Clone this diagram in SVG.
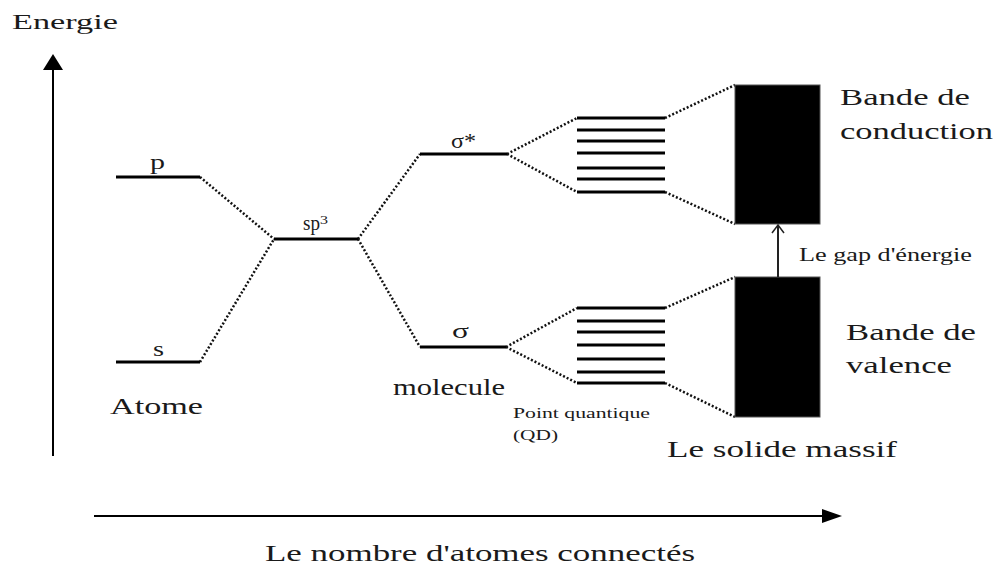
<svg xmlns="http://www.w3.org/2000/svg" width="1000" height="567" viewBox="0 0 1000 567" font-family="Liberation Serif, Times New Roman, serif">
<style>
.t{fill:#1a1a1a}
.lvl{stroke:#000;stroke-width:3;fill:none}
.dot{stroke:#111;stroke-width:2.5;stroke-dasharray:2 2;fill:none}
.axis{stroke:#000;stroke-width:2;fill:none}
.band{fill:#000;stroke:#555;stroke-width:1}
</style>
<rect width="1000" height="567" fill="#fff"/>

<g id="axes">
<line class="axis" x1="53" y1="456" x2="53" y2="68"/>
<path d="M43,70 L53,54 L63,70 Z" fill="#000"/>
<line class="axis" x1="94" y1="516" x2="824" y2="516"/>
<path d="M822,509 L842,516 L822,523 Z" fill="#000"/>
<text class="t" font-family="Liberation Serif" x="12" y="29" font-size="21" textLength="106" lengthAdjust="spacingAndGlyphs">Energie</text>
<text class="t" font-family="Liberation Serif" x="265" y="561" font-size="23" textLength="430" lengthAdjust="spacingAndGlyphs">Le nombre d'atomes connectés</text>
</g>

<g id="connectors">
<line class="dot" x1="200" y1="177" x2="274" y2="239"/>
<line class="dot" x1="200" y1="362" x2="274" y2="239"/>
<line class="dot" x1="358" y1="239" x2="420" y2="154"/>
<line class="dot" x1="358" y1="239" x2="420" y2="347"/>
<line class="dot" x1="507" y1="154" x2="577" y2="118"/>
<line class="dot" x1="507" y1="154" x2="577" y2="192"/>
<line class="dot" x1="506" y1="347" x2="577" y2="308"/>
<line class="dot" x1="506" y1="347" x2="577" y2="383"/>
<line class="dot" x1="665" y1="118" x2="735" y2="85"/>
<line class="dot" x1="665" y1="192" x2="735" y2="224"/>
<line class="dot" x1="665" y1="308" x2="735" y2="277"/>
<line class="dot" x1="665" y1="383" x2="735" y2="417"/>
</g>

<g id="atome" font-family="Liberation Serif">
<line class="lvl" x1="116" y1="177" x2="200" y2="177"/>
<text class="t" x="150" y="169" font-size="20" textLength="15" lengthAdjust="spacingAndGlyphs">p</text>
<line class="lvl" x1="116" y1="362" x2="200" y2="362"/>
<text class="t" x="153" y="356" font-size="20" textLength="11" lengthAdjust="spacingAndGlyphs">s</text>
<text class="t" x="110" y="414" font-size="24" textLength="93" lengthAdjust="spacingAndGlyphs">Atome</text>
</g>

<g id="sp3" font-family="Liberation Serif">
<line class="lvl" x1="274" y1="239" x2="358" y2="239"/>
<text class="t" x="303" y="230" font-size="20" textLength="17" lengthAdjust="spacingAndGlyphs">sp</text>
<text class="t" x="320" y="224" font-size="13" textLength="8" lengthAdjust="spacingAndGlyphs">3</text>
</g>

<g id="molecule" font-family="Liberation Serif">
<line class="lvl" x1="420" y1="154" x2="507" y2="154"/>
<text class="t" x="451" y="148" font-size="21" textLength="25" lengthAdjust="spacingAndGlyphs">σ*</text>
<line class="lvl" x1="420" y1="347" x2="506" y2="347"/>
<text class="t" x="452" y="338" font-size="21" textLength="17" lengthAdjust="spacingAndGlyphs">σ</text>
<text class="t" x="393" y="395" font-size="23" textLength="112" lengthAdjust="spacingAndGlyphs">molecule</text>
</g>

<g id="point-quantique" font-family="Liberation Serif">
<g class="lvl">
<line x1="577" y1="118" x2="665" y2="118"/>
<line x1="577" y1="130" x2="665" y2="130"/>
<line x1="577" y1="141" x2="665" y2="141"/>
<line x1="577" y1="153" x2="665" y2="153"/>
<line x1="577" y1="168" x2="665" y2="168"/>
<line x1="577" y1="179" x2="665" y2="179"/>
<line x1="577" y1="192" x2="665" y2="192"/>
<line x1="577" y1="308" x2="665" y2="308"/>
<line x1="577" y1="321" x2="665" y2="321"/>
<line x1="577" y1="332" x2="665" y2="332"/>
<line x1="577" y1="345" x2="665" y2="345"/>
<line x1="577" y1="359" x2="665" y2="359"/>
<line x1="577" y1="372" x2="665" y2="372"/>
<line x1="577" y1="383" x2="665" y2="383"/>
</g>
<text class="t" x="513" y="418" font-size="14" textLength="137" lengthAdjust="spacingAndGlyphs">Point quantique</text>
<text class="t" x="513" y="440" font-size="14" textLength="45" lengthAdjust="spacingAndGlyphs">(QD)</text>
</g>

<g id="solide-massif" font-family="Liberation Serif">
<rect class="band" x="735" y="85" width="85" height="139"/>
<rect class="band" x="735" y="277" width="85" height="140"/>
<line stroke="#222" stroke-width="2" x1="778" y1="277" x2="778" y2="226"/>
<path d="M772,233 L778,225 L784,233" fill="none" stroke="#222" stroke-width="1.5"/>
<text class="t" x="799" y="261" font-size="19" textLength="173" lengthAdjust="spacingAndGlyphs">Le gap d'énergie</text>
<text class="t" x="840" y="105" font-size="23" textLength="130" lengthAdjust="spacingAndGlyphs">Bande de</text>
<text class="t" x="840" y="139" font-size="23" textLength="153" lengthAdjust="spacingAndGlyphs">conduction</text>
<text class="t" x="846" y="340" font-size="23" textLength="130" lengthAdjust="spacingAndGlyphs">Bande de</text>
<text class="t" x="846" y="373" font-size="23" textLength="106" lengthAdjust="spacingAndGlyphs">valence</text>
<text class="t" x="667" y="457" font-size="24" textLength="230" lengthAdjust="spacingAndGlyphs">Le solide massif</text>
</g>
</svg>
